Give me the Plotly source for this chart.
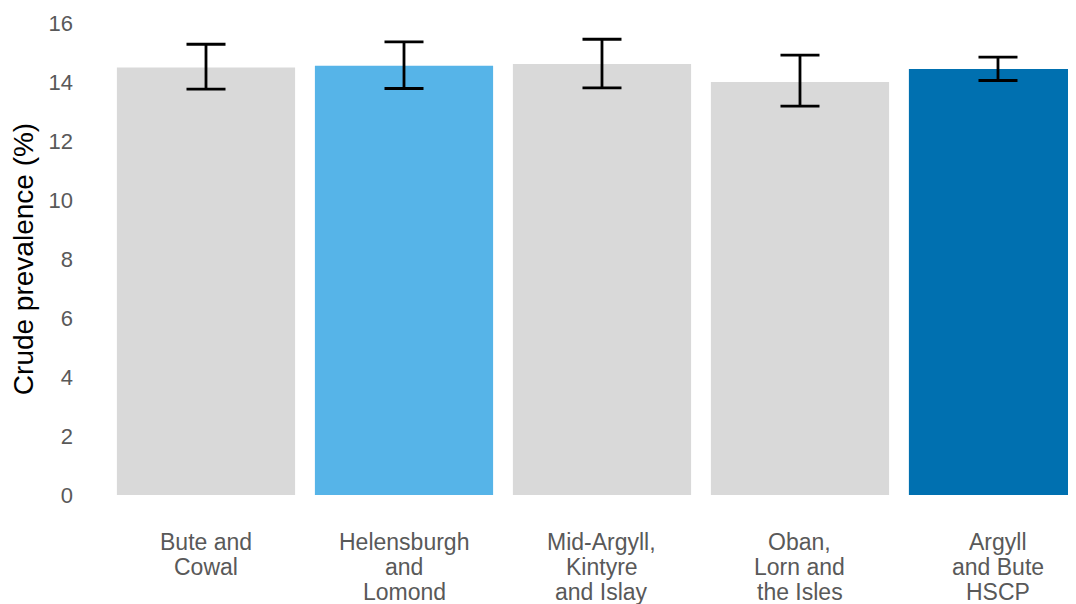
import plotly.graph_objects as go

categories = [["Bute and", "Cowal"], ["Helensburgh", "and", "Lomond"], ["Mid-Argyll,", "Kintyre", "and Islay"],
              ["Oban,", "Lorn and", "the Isles"], ["Argyll", "and Bute", "HSCP"]]
prevalence = [14.49, 14.55, 14.61, 14.00, 14.44]
upper_ci = [15.28, 15.36, 15.45, 14.91, 14.84]
lower_ci = [13.76, 13.78, 13.80, 13.18, 14.05]
bar_colors = ["#D9D9D9", "#56B4E8", "#D9D9D9", "#D9D9D9", "#0070B0"]
y_ticks = [0, 2, 4, 6, 8, 10, 12, 14, 16]

err_plus = [u - p for u, p in zip(upper_ci, prevalence)]
err_minus = [p - l for p, l in zip(prevalence, lower_ci)]

x_pos = list(range(len(categories)))

fig = go.Figure(go.Bar(
    x=x_pos,
    y=prevalence,
    marker=dict(color=bar_colors, line=dict(width=0)),
    error_y=dict(type="data", symmetric=False, array=err_plus, arrayminus=err_minus,
                 color="black", thickness=2.8, width=19.5),
))

# category labels, one line each, tight line spacing
line_gap = 25
for i, lines in enumerate(categories):
    for j, txt in enumerate(lines):
        fig.add_annotation(
            x=i, xref="x", y=0, yref="paper", yanchor="middle", xanchor="center",
            text=txt, showarrow=False, yshift=-(47 + j * line_gap),
            font=dict(size=23, color="#595959"),
        )

fig.update_layout(
    width=1068, height=596,
    margin=dict(l=99, r=0, t=15, b=108.5, autoexpand=False),
    paper_bgcolor="white", plot_bgcolor="white",
    bargap=0.1,
    showlegend=False,
    font=dict(family="Liberation Sans, Arial, sans-serif", color="#595959", size=22),
    xaxis=dict(
        tickmode="array", tickvals=x_pos, showticklabels=False,
        range=[-0.5, 4.394], showgrid=False, zeroline=False, showline=False,
        ticks="",
    ),
    yaxis=dict(
        range=[0, 16], tickvals=y_ticks, showgrid=False, zeroline=False, showline=False,
        ticks="", ticklabelstandoff=33,
        tickfont=dict(size=22, color="#595959"),
        title=dict(text="Crude prevalence (%)", font=dict(size=28, color="black"), standoff=9),
        automargin=False,
    ),
)

fig.write_html("out.html")
